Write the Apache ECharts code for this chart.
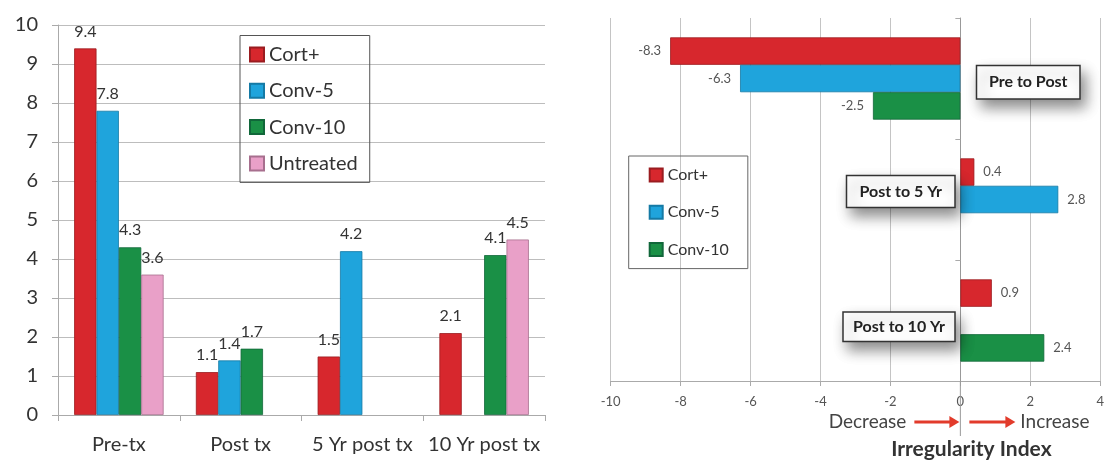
<!DOCTYPE html>
<html><head><meta charset="utf-8">
<script src="https://cdn.jsdelivr.net/npm/echarts@6/dist/echarts.min.js"></script>
<style>html,body{margin:0;padding:0;background:#fff}#c{width:1107px;height:461px}</style>
</head><body><div id="c"></div>
<script>
// ---- Left chart data ----
const leftCategories = ['Pre-tx', 'Post tx', '5 Yr post tx', '10 Yr post tx'];
const leftCort = [9.4, 1.1, 1.5, 2.1];
const leftConv5 = [7.8, 1.4, 4.2, null];
const leftConv10 = [4.3, 1.7, null, 4.1];
const leftUntreated = [3.6, null, null, 4.5];

// ---- Right chart data ----
const rightCategories = ['Pre to Post', 'Post to 5 Yr', 'Post to 10 Yr'];
const rightCort = [-8.3, 0.4, 0.9];
const rightConv5 = [-6.3, 2.8, null];
const rightConv10 = [-2.5, null, 2.4];

const seriesNames = ['Cort+', 'Conv-5', 'Conv-10', 'Untreated'];
const colors = ['#d7272d', '#1fa4dc', '#1a9046', '#e9a0c8'];
const borders = ['#9a1c20', '#157aa5', '#11673a', '#a76f8e'];

const FONT = 'Lato, "Noto Sans", sans-serif';

function leftSeries(name, idx, data) {
  return {
    name: name, type: 'bar', xAxisIndex: 0, yAxisIndex: 0, data: data,
    barGap: '0%', barCategoryGap: '26.5%',
    itemStyle: { color: colors[idx], borderColor: borders[idx], borderWidth: 0.8 },
    label: { show: true, position: 'top', distance: 9, color: '#333', fontSize: 16, fontFamily: FONT },
    emphasis: { disabled: true }
  };
}
function rightSeries(name, idx, data) {
  return {
    name: name, type: 'bar', xAxisIndex: 1, yAxisIndex: 1, data: data,
    barGap: '0%', barCategoryGap: '32%',
    itemStyle: { color: colors[idx], borderColor: borders[idx], borderWidth: 0.8 },
    label: { show: true, position: 'outside', distance: 9, color: '#555', fontSize: 13, fontFamily: FONT },
    emphasis: { disabled: true }
  };
}

const chart = echarts.init(document.getElementById('c'), null, { renderer: 'canvas' });

const boxStyle = { fill: '#fff', stroke: '#333', lineWidth: 1.5, shadowBlur: 14, shadowOffsetX: 5, shadowOffsetY: 8, shadowColor: 'rgba(0,0,0,0.45)' };
function annot(x, y, w, h, text) {
  return [
    { type: 'rect', shape: { x: x, y: y, width: w, height: h }, style: boxStyle, z: 50 },
    { type: 'text', style: { x: x + w / 2, y: y + h / 2, text: text, font: 'bold 16px ' + FONT, fill: '#222', align: 'center', verticalAlign: 'middle' }, z: 51 }
  ];
}
function arrow(x1, x2, y) {
  return [
    { type: 'line', shape: { x1: x1, y1: y, x2: x2 - 8, y2: y }, style: { stroke: '#e23b2b', lineWidth: 3 }, z: 50 },
    { type: 'polygon', shape: { points: [[x2, y], [x2 - 10, y - 6], [x2 - 10, y + 6]] }, style: { fill: '#e23b2b' }, z: 50 }
  ];
}

chart.setOption({
  animation: false,
  backgroundColor: '#fff',
  textStyle: { fontFamily: FONT },
  grid: [
    { left: 58, top: 25, width: 487, height: 390, containLabel: false },
    { left: 610.7, top: 18, width: 495.6, height: 363, containLabel: false }
  ],
  legend: [
    {
      data: seriesNames, orient: 'vertical', left: 240, top: 35.5, icon: 'rect',
      padding: [9, 12, 9, 9], itemGap: 16.3, itemWidth: 14, itemHeight: 14,
      borderColor: '#555', borderWidth: 1, selectedMode: false,
      textStyle: { fontSize: 20, color: '#333', fontFamily: FONT }
    },
    {
      data: seriesNames.slice(0, 3), orient: 'vertical', left: 628.7, top: 156, icon: 'rect',
      padding: [11, 19, 11, 20], itemGap: 21.3, itemWidth: 13, itemHeight: 13,
      borderColor: '#666', borderWidth: 1, selectedMode: false,
      textStyle: { fontSize: 16, color: '#333', fontFamily: FONT }
    }
  ],
  xAxis: [
    {
      type: 'category', gridIndex: 0, data: leftCategories,
      axisLine: { lineStyle: { color: '#aaa' } },
      axisTick: { show: true, length: 6, alignWithLabel: false, lineStyle: { color: '#aaa' } },
      axisLabel: { interval: 0, margin: 20, fontSize: 20, color: '#333', fontFamily: FONT }
    },
    {
      type: 'value', gridIndex: 1, min: -10, max: 4, interval: 2,
      axisLine: { show: true, onZero: false, lineStyle: { color: '#aaa' } },
      axisTick: { show: true, length: 5, lineStyle: { color: '#aaa' } },
      splitLine: { show: true, lineStyle: { color: '#c4c4c4' } },
      axisLabel: { margin: 14, fontSize: 13, color: '#555', fontFamily: FONT }
    }
  ],
  yAxis: [
    {
      type: 'value', gridIndex: 0, min: 0, max: 10, interval: 1,
      axisLine: { show: true, lineStyle: { color: '#aaa' } },
      axisTick: { show: true, length: 6, lineStyle: { color: '#aaa' } },
      splitLine: { show: true, lineStyle: { color: '#bdbdbd' } },
      axisLabel: { margin: 20, fontSize: 20, color: '#333', fontFamily: FONT }
    },
    {
      type: 'category', gridIndex: 1, data: rightCategories, inverse: true,
      axisLine: { show: true, onZero: true, lineStyle: { color: '#999' } },
      axisTick: { show: true, length: 5, lineStyle: { color: '#aaa' } },
      axisLabel: { show: false },
      splitLine: { show: false }
    }
  ],
  series: [
    leftSeries(seriesNames[0], 0, leftCort),
    leftSeries(seriesNames[1], 1, leftConv5),
    leftSeries(seriesNames[2], 2, leftConv10),
    leftSeries(seriesNames[3], 3, leftUntreated),
    rightSeries(seriesNames[0], 0, rightCort),
    rightSeries(seriesNames[1], 1, rightConv5),
    rightSeries(seriesNames[2], 2, rightConv10)
  ]
});

// place the bottom annotations relative to the zero position of the right value axis
const zeroX = chart.convertToPixel({ xAxisIndex: 1 }, 0);
const axisY = chart.convertToPixel({ yAxisIndex: 1 }, rightCategories.length - 1) + 60;
const graphics = [].concat(
  annot(976.5, 65.5, 103.5, 33.5, 'Pre to Post'),
  annot(846.5, 175.5, 108.5, 32, 'Post to 5 Yr'),
  annot(843, 312, 112, 29.5, 'Post to 10 Yr'),
  [{ type: 'line', shape: { x1: zeroX, y1: 381, x2: zeroX, y2: 436 }, style: { stroke: '#999', lineWidth: 1 }, z: 5 }],
  arrow(zeroX - 46, zeroX - 1, 422),
  arrow(zeroX + 9, zeroX + 55, 422),
  [
    { type: 'text', style: { x: zeroX - 54, y: 422, text: 'Decrease', font: '19px ' + FONT, fill: '#444', align: 'right', verticalAlign: 'middle' } },
    { type: 'text', style: { x: zeroX + 60, y: 422, text: 'Increase', font: '19px ' + FONT, fill: '#444', align: 'left', verticalAlign: 'middle' } },
    { type: 'text', style: { x: zeroX + 11, y: 449, text: 'Irregularity Index', font: 'bold 21px ' + FONT, fill: '#333', align: 'center', verticalAlign: 'middle' } }
  ]
);
chart.setOption({ graphic: graphics });
</script>
</body></html>
